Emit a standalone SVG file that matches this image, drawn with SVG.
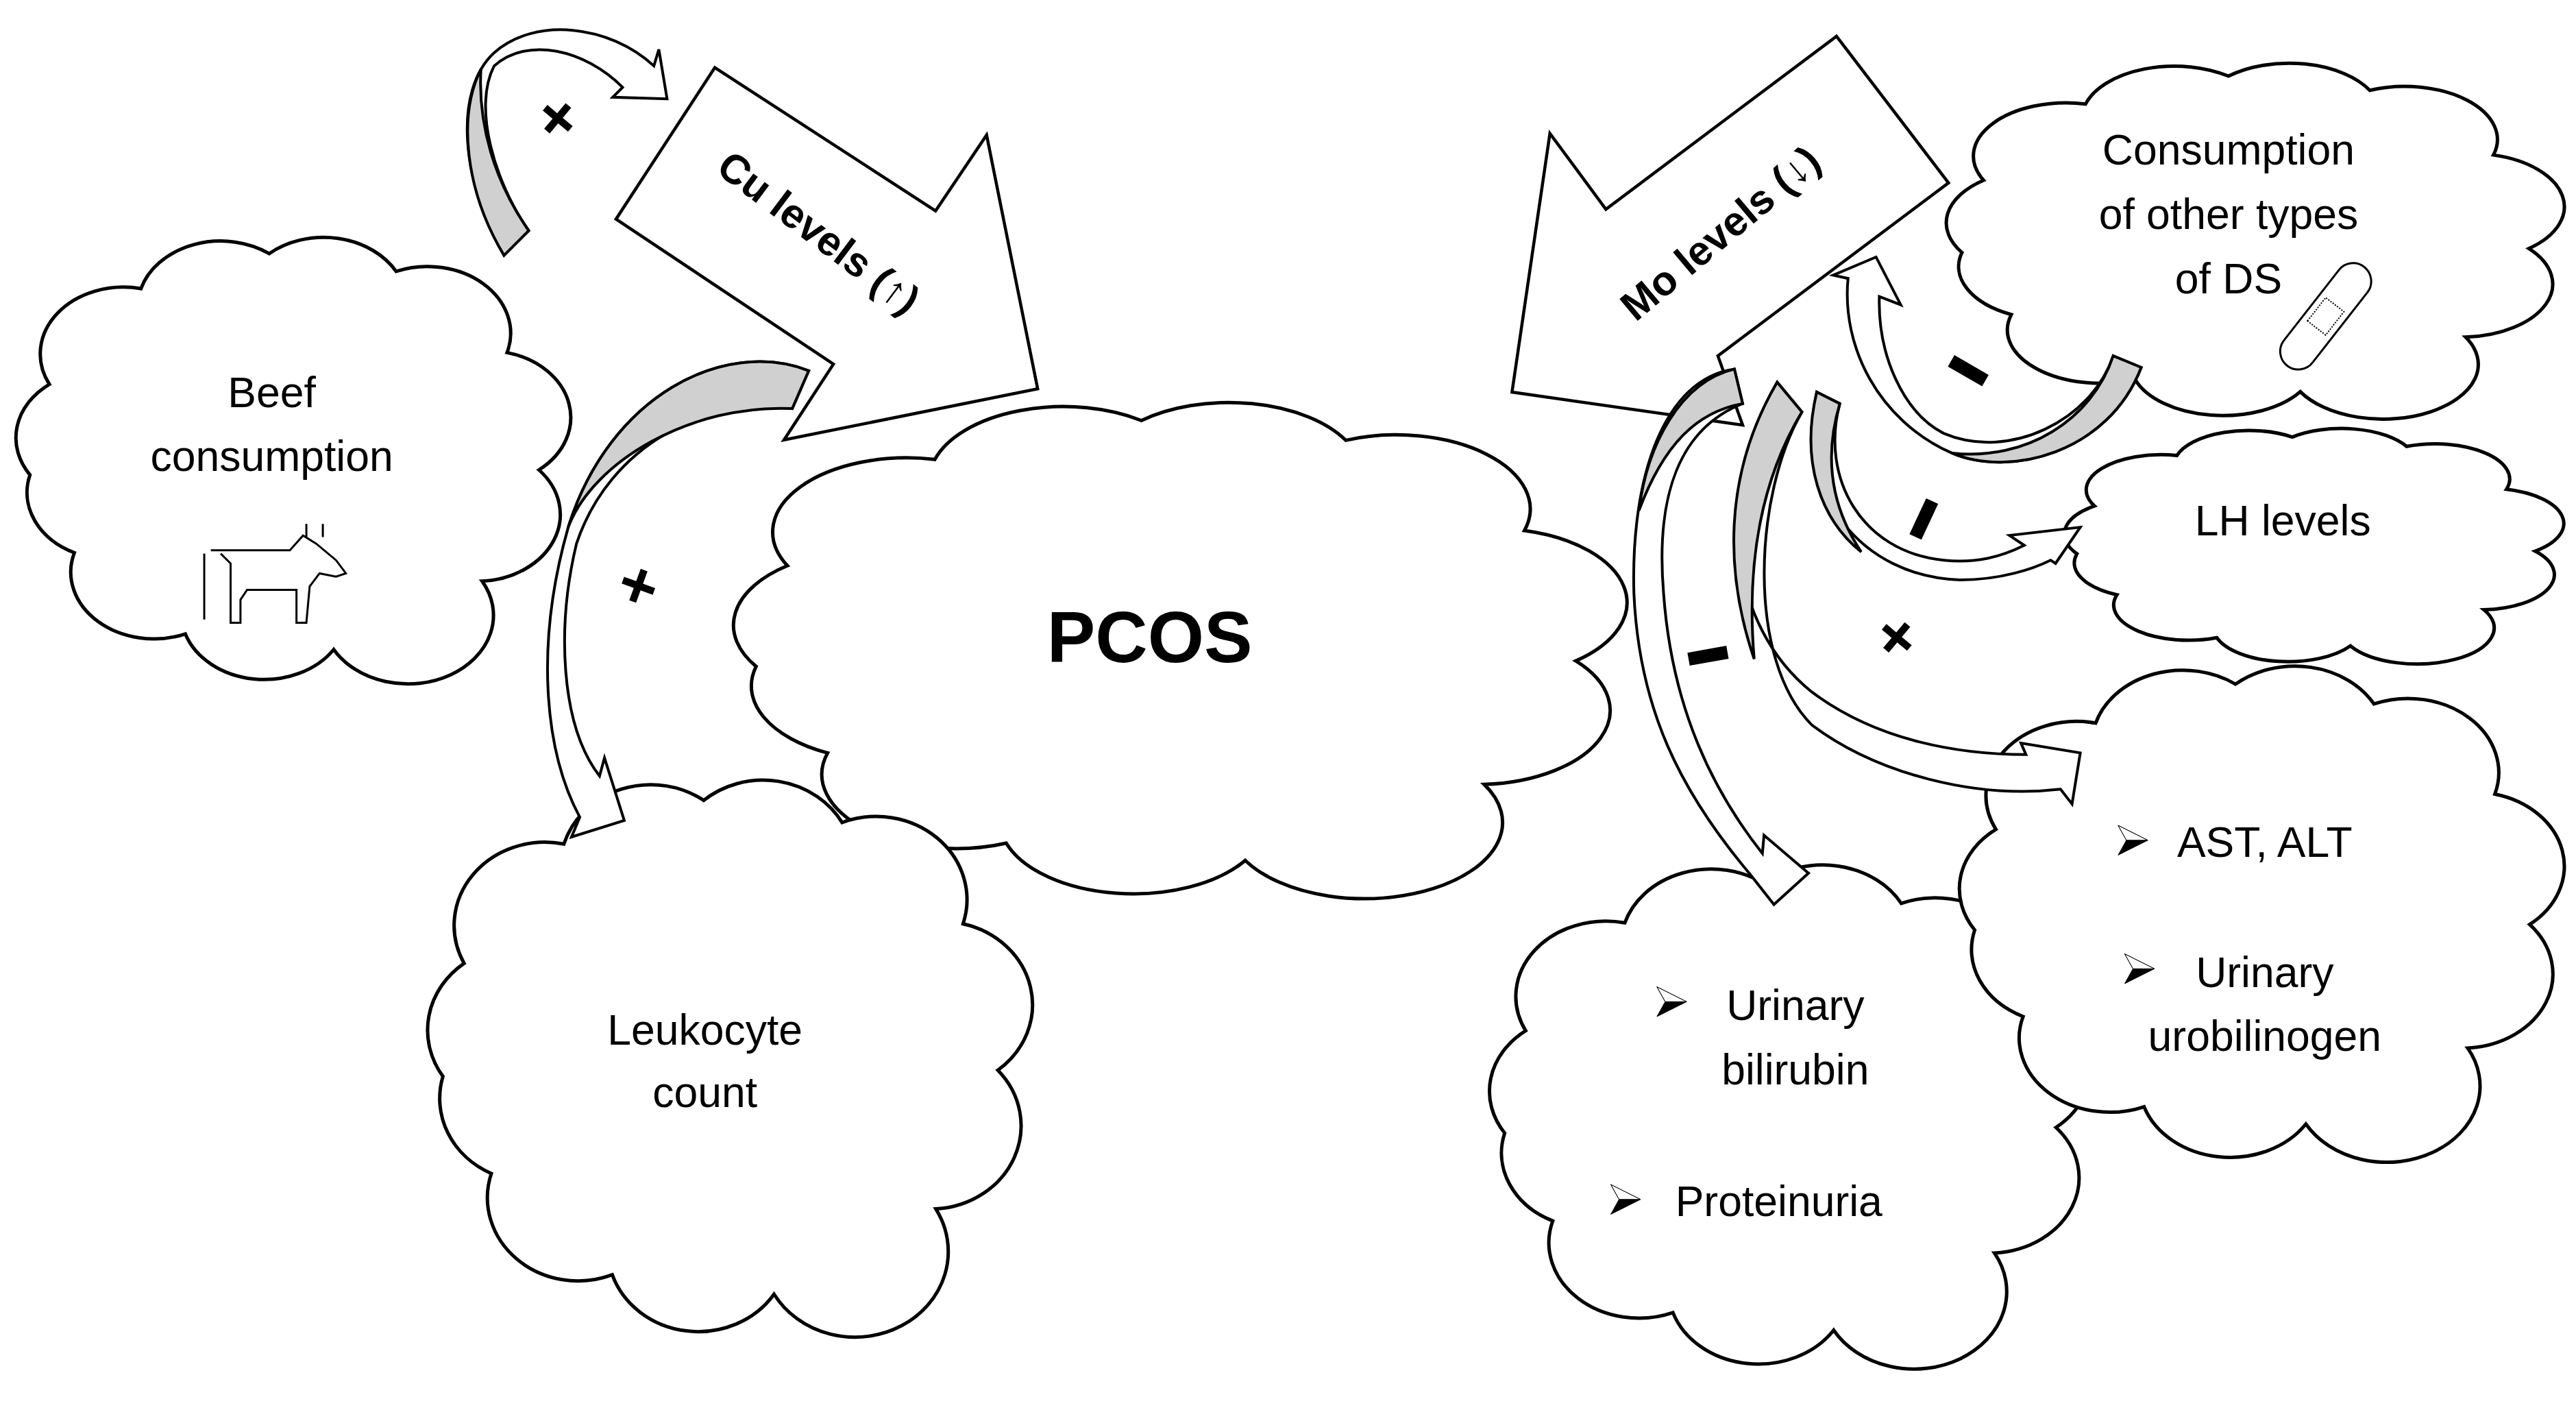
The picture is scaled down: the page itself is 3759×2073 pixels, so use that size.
<svg xmlns="http://www.w3.org/2000/svg" width="3759" height="2073" viewBox="0 0 3759 2073">
<style>
path,polygon,line,rect,ellipse,polyline{vector-effect:non-scaling-stroke}
.cl{fill:#fff;stroke:#000;stroke-width:5}
.ba{fill:#fff;stroke:#000;stroke-width:4.5;stroke-linejoin:miter}
.ca{fill:#fff;stroke:#000;stroke-width:4}
.gr{fill:#d0d0d0;stroke:#000;stroke-width:4}
.t{font-family:"Liberation Sans",Arial,sans-serif;font-size:26px;fill:#000;text-anchor:middle}
.b{font-weight:bold}
.big{font-size:44px}
.lab{font-size:25px}
.sg{font-family:"Liberation Sans",Arial,sans-serif;font-weight:bold;font-size:40px;text-anchor:middle}
.ic{fill:none;stroke:#000;stroke-width:3}
</style>
<defs>
<path id="cloud" d="M15.2,37.7 A12,12 0 0 1 28.4,20.5 A12,12 0 0 1 46.9,14.2 A12,12 0 0 1 65.2,17.4 A12,12 0 0 1 81.2,32 A12,12 0 0 1 85.8,53.1 A12,12 0 0 1 77.6,73.1 A12,12 0 0 1 56.2,85.4 A12,12 0 0 1 34.8,82.6 A12,12 0 0 1 18.8,68 A12,12 0 0 1 12.4,54 A12,12 0 0 1 15.2,37.7 Z"/>
<g id="bul"><polygon points="0,-9 18,0 0,9 5,0" fill="#000" stroke="#000" stroke-width="1"/><polygon points="0,-9 18,0 5,0" fill="#fff" stroke="#000" stroke-width="1"/></g>
</defs>
<rect width="3759" height="2073" fill="#fff"/>
<g transform="scale(2.4035)">
<g id="pcos"><use href="#cloud" class="cl" transform="translate(375,202) scale(6.78,3.75)"/><text class="t b big" x="698" y="402">PCOS</text></g>
<g id="beef"><use href="#cloud" class="cl" transform="translate(-34,106) scale(4.21,3.375)"/>
<text class="t" x="165" y="247">Beef</text><text class="t" x="165" y="286">consumption</text>
<g class="ic"><path d="M128,334 H176 L184,325 L192,330 L204,340 L210,348 L204,350 L194,348 L188,356 L186,378 H180 V358 H150 L146,364 V378 H140 V342 L134,336"/><path d="M124,336 V376"/><path d="M186,318 V326 M196,318 V326"/></g></g>
<g id="leuk"><use href="#cloud" class="cl" transform="translate(212,426) scale(4.59,4.21)"/>
<text class="t" x="428" y="634">Leukocyte</text><text class="t" x="428" y="672">count</text></g>
<g id="cons"><use href="#cloud" class="cl" transform="translate(1133,8) scale(4.69,2.69)"/>
<text class="t" x="1353" y="100">Consumption</text><text class="t" x="1353" y="139">of other types</text><text class="t" x="1353" y="178">of DS</text>
<g transform="translate(1412,192) rotate(-52)"><rect x="-38" y="-11" width="76" height="22" rx="11" class="ic" stroke-width="2.5"/><rect x="-9" y="-7" width="18" height="14" fill="none" stroke="#000" stroke-width="2" stroke-dasharray="2 2"/></g></g>
<g id="lh"><use href="#cloud" class="cl" transform="translate(1214,240) scale(3.79,1.78)"/><text class="t" x="1386" y="325">LH levels</text></g>
<g id="uri"><use href="#cloud" class="cl" transform="translate(857,482) scale(4.56,3.81)"/>
<use href="#bul" transform="translate(1006,608)"/><text class="t" x="1090" y="619">Urinary</text><text class="t" x="1090" y="658">bilirubin</text>
<use href="#bul" transform="translate(978,728)"/><text class="t" x="1080" y="738">Proteinuria</text></g>
<g id="ast"><use href="#cloud" class="cl" transform="translate(1142,362) scale(4.59,3.75)"/>
<use href="#bul" transform="translate(1286,510)"/><text class="t" x="1375" y="520">AST, ALT</text>
<use href="#bul" transform="translate(1290,588)"/><text class="t" x="1375" y="599">Urinary</text><text class="t" x="1375" y="638">urobilinogen</text></g>
<g id="cu"><polygon class="ba" points="434,41 568,128 599,82 630,236 476,267 506,221 374,133"/>
<text class="t b lab" transform="translate(492,148) rotate(37)">Cu levels (↑)</text></g>
<g id="mo"><polygon class="ba" points="918,238 941,81 975,127 1115,22 1183,111 1043,216 1058,258"/>
<text class="t b lab" transform="translate(1050,148) rotate(-40)">Mo levels (↓)</text></g>
<g id="connectors">
<path class="ca" d="M306,155 C280,110 275,55 300,32 C325,10 370,15 397,40 L400,30 L405,60 L372,59 L378,53 C355,30 320,22 300,40 C287,65 300,110 321,140 Z"/>
<path class="gr" d="M306,155 C282,115 278,70 292,42 C290,75 300,110 321,140 Z"/>
<path class="ca" d="M491,225 C440,205 370,240 345,320 C325,390 330,455 352,496 L347,508 L379,498 L367,460 L364,471 C340,440 338,380 350,330 C370,270 430,240 481,248 Z"/>
<path class="gr" d="M491,225 C440,205 370,240 345,320 C360,280 420,245 481,248 Z"/>
<path class="ca" d="M1300,223 C1280,275 1220,290 1185,275 C1140,255 1118,210 1122,169 L1113,167 L1139,156 L1154,185 L1141,180 C1140,215 1155,250 1180,263 C1220,280 1270,255 1283,216 Z"/>
<path class="gr" d="M1300,223 C1280,275 1220,290 1185,275 C1230,280 1270,255 1283,216 Z"/>
<path class="ca" d="M1103,238 C1090,300 1130,350 1190,352 C1215,352 1235,345 1245,340 L1248,342 L1263,320 L1220,325 L1229,331 C1215,338 1200,342 1180,340 C1130,335 1105,290 1117,245 Z"/>
<path class="gr" d="M1103,238 C1093,280 1105,315 1130,335 C1110,305 1108,275 1117,245 Z"/>
<path class="ca" d="M1079,232 C1040,300 1050,380 1100,420 C1140,450 1190,458 1230,458 L1227,451 L1263,457 L1258,488 L1251,479 C1200,485 1140,470 1100,440 C1060,400 1065,300 1094,250 Z"/>
<path class="gr" d="M1079,232 C1045,290 1048,350 1065,400 C1060,340 1070,290 1094,250 Z"/>
<path class="ca" d="M1053,224 C1010,230 990,290 992,360 C995,430 1020,480 1062,530 L1077,549 L1098,530 L1071,507 L1070,518 C1040,480 1015,430 1010,360 C1005,300 1020,260 1058,245 Z"/>
<path class="gr" d="M1053,224 C1020,232 1000,270 995,310 C1010,270 1030,250 1058,245 Z"/>
</g>
<g id="signs">
<text class="sg" transform="translate(330,82) rotate(40)">+</text>
<text class="sg" transform="translate(383,368) rotate(20)">+</text>
<text class="sg" transform="translate(1143,397) rotate(40)">+</text>
<rect x="-12" y="-4" width="24" height="8" transform="translate(1195,225) rotate(30)"/>
<rect x="-12" y="-4" width="24" height="8" transform="translate(1168,315) rotate(-65)"/>
<rect x="-12" y="-4" width="24" height="8" transform="translate(1037,398) rotate(-10)"/>
</g>
</g>
</svg>
